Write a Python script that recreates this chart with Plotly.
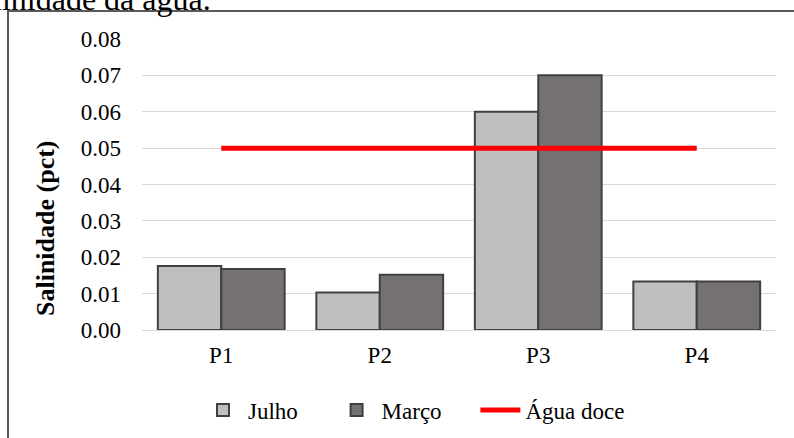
import plotly.graph_objects as go

# Salinity per sampling point, July and March campaigns
pontos = ["P1", "P2", "P3", "P4"]
julho = [0.0176, 0.0103, 0.060, 0.0133]
marco = [0.0168, 0.0152, 0.070, 0.0133]
agua_doce = [0.05, 0.05, 0.05, 0.05]

FONT = "Liberation Serif"
W, H = 794, 438
L, R, T, B = 142, 18, 39, 108
pw, ph = W - L - R, H - T - B
PAD = "\u00a0" * 5  # extra spacing between legend entries


def px_x(x):
    return (x - L) / pw


def px_y(y):
    return (H - B - y) / ph


fig = go.Figure()
fig.add_trace(go.Bar(
    x=pontos, y=julho, name="Julho" + PAD,
    marker=dict(color="#BFBFBF", line=dict(color="#404040", width=2)),
))
fig.add_trace(go.Bar(
    x=pontos, y=marco, name="Março" + PAD,
    marker=dict(color="#767171", line=dict(color="#404040", width=2)),
))
fig.add_trace(go.Scatter(
    x=pontos, y=agua_doce, name="Água doce", mode="lines",
    line=dict(color="#FF0000", width=5),
))

fig.update_layout(
    width=W, height=H,
    margin=dict(l=L, r=R, t=T, b=B, autoexpand=False),
    paper_bgcolor="white", plot_bgcolor="white",
    font=dict(family=FONT, size=23, color="black"),
    barmode="group", bargap=0.2, bargroupgap=0,
    showlegend=True,
    legend=dict(
        orientation="h", x=px_x(198), xanchor="left",
        y=px_y(410), yanchor="middle",
        font=dict(family=FONT, size=23), itemwidth=40,
        traceorder="normal",
    ),
    xaxis=dict(
        showgrid=False, showline=True, linecolor="#D9D9D9", linewidth=1,
        ticks="", tickfont=dict(family=FONT, size=23),
        ticklabelstandoff=4,
    ),
    yaxis=dict(
        range=[0, 0.08], dtick=0.01, tickformat=".2f",
        showgrid=True, gridcolor="#D9D9D9", gridwidth=1,
        zeroline=False, showline=False, ticks="",
        tickfont=dict(family=FONT, size=23),
        ticklabelstandoff=20,
    ),
    annotations=[
        dict(
            text="<b>Salinidade (pct)</b>", textangle=-90,
            xref="paper", yref="paper", x=px_x(45), y=px_y(228),
            xanchor="center", yanchor="middle", showarrow=False,
            font=dict(family=FONT, size=26),
        ),
        dict(
            text="Salinidade da água.",
            xref="paper", yref="paper", x=px_x(213), y=px_y(19),
            xanchor="right", yanchor="bottom", showarrow=False,
            font=dict(family=FONT, size=32),
        ),
    ],
    shapes=[
        dict(
            type="rect", xref="paper", yref="paper",
            x0=px_x(8), x1=px_x(W + 20), y0=px_y(H + 20), y1=px_y(11),
            line=dict(color="#595959", width=2), fillcolor="rgba(0,0,0,0)",
            layer="below",
        ),
    ],
)

fig.write_html("out.html")
